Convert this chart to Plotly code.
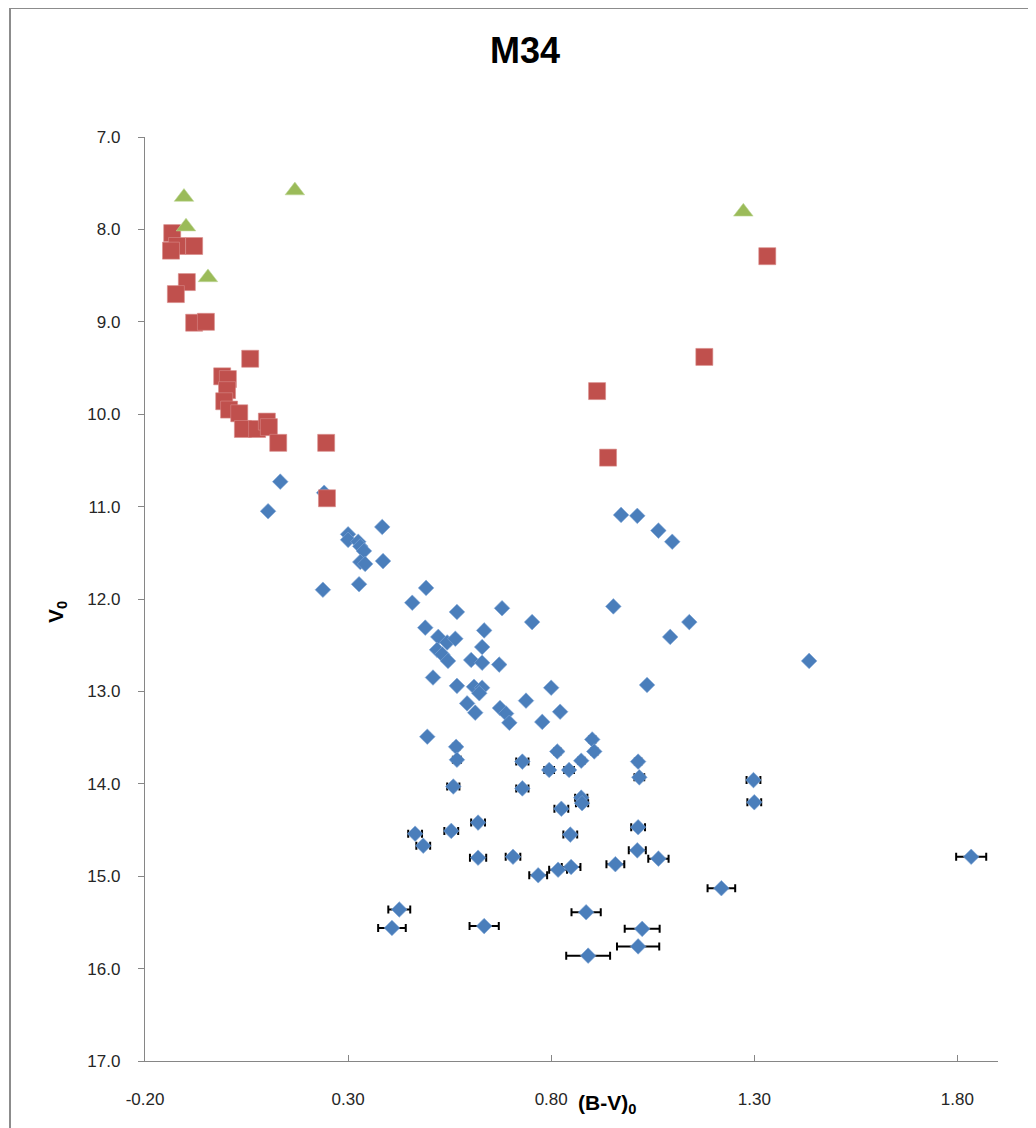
import plotly.graph_objects as go

# ---- data ----
blue_x = [0.133, 0.103, 0.241, 0.238, 0.384, 0.300, 0.300, 0.325, 0.330, 0.339,
          0.330, 0.342, 0.386, 0.327, 0.492, 0.458, 0.568, 0.679, 0.753, 0.490,
          0.522, 0.544, 0.564, 0.519, 0.532, 0.546, 0.635, 0.630, 0.603, 0.630,
          0.672, 0.509, 0.568, 0.610, 0.630, 0.623, 0.593, 0.613, 0.674, 0.689,
          0.697, 0.738, 0.800, 0.822, 0.778, 0.495, 0.566, 0.815, 0.729, 0.568,
          0.901, 0.906, 0.874, 0.795, 0.844, 1.014, 1.017, 0.559, 0.729, 0.874,
          0.876, 0.825, 1.014, 1.012, 1.064, 0.958, 0.847, 0.620, 0.465, 0.485,
          0.554, 0.620, 0.706, 0.768, 0.817, 0.849, 0.426, 0.408, 0.635, 0.886,
          1.024, 1.014, 0.891, 0.972, 1.012, 1.064, 1.098, 0.953, 1.140, 1.093,
          1.036, 1.435, 1.298, 1.300, 1.834, 1.219]
blue_y = [10.73, 11.05, 10.85, 11.90, 11.22, 11.30, 11.36, 11.38, 11.43, 11.48,
          11.60, 11.62, 11.59, 11.84, 11.88, 12.04, 12.14, 12.10, 12.25, 12.31,
          12.41, 12.47, 12.43, 12.55, 12.60, 12.67, 12.34, 12.52, 12.66, 12.69,
          12.71, 12.85, 12.94, 12.95, 12.96, 13.02, 13.13, 13.23, 13.18, 13.24,
          13.34, 13.10, 12.96, 13.22, 13.33, 13.49, 13.60, 13.65, 13.76, 13.74,
          13.52, 13.65, 13.75, 13.85, 13.85, 13.76, 13.93, 14.03, 14.05, 14.15,
          14.21, 14.27, 14.47, 14.72, 14.81, 14.87, 14.55, 14.42, 14.54, 14.67,
          14.51, 14.80, 14.79, 14.99, 14.93, 14.90, 15.36, 15.56, 15.54, 15.39,
          15.57, 15.76, 15.86, 11.09, 11.10, 11.26, 11.38, 12.08, 12.25, 12.41,
          12.93, 12.67, 13.96, 14.20, 14.79, 15.13]
blue_err = [0.005, 0.005, 0.005, 0.005, 0.005, 0.005, 0.005, 0.005, 0.005, 0.005,
            0.005, 0.005, 0.005, 0.005, 0.005, 0.005, 0.005, 0.005, 0.005, 0.005,
            0.005, 0.005, 0.005, 0.005, 0.005, 0.005, 0.005, 0.005, 0.005, 0.005,
            0.005, 0.005, 0.005, 0.005, 0.005, 0.005, 0.005, 0.005, 0.005, 0.005,
            0.005, 0.005, 0.005, 0.005, 0.005, 0.006, 0.008, 0.008, 0.015, 0.010,
            0.008, 0.008, 0.008, 0.012, 0.012, 0.008, 0.012, 0.015, 0.015, 0.015,
            0.015, 0.017, 0.017, 0.021, 0.025, 0.022, 0.017, 0.017, 0.017, 0.017,
            0.017, 0.020, 0.018, 0.022, 0.022, 0.023, 0.027, 0.034, 0.036, 0.036,
            0.043, 0.052, 0.054, 0.005, 0.005, 0.005, 0.005, 0.005, 0.005, 0.005,
            0.005, 0.005, 0.017, 0.017, 0.037, 0.034]

red_x = [-0.133, -0.121, -0.136, -0.079, -0.097, -0.124, -0.079, -0.050, 0.059, -0.010,
         0.004, 0.002, -0.005, 0.007, 0.032, 0.041, 0.076, 0.100, 0.105, 0.128,
         0.246, 0.248, 0.913, 0.940, 1.177, 1.332]
red_y = [8.04, 8.18, 8.23, 8.18, 8.57, 8.70, 9.01, 9.00, 9.40, 9.59,
         9.62, 9.74, 9.86, 9.95, 9.99, 10.16, 10.16, 10.08, 10.14, 10.31,
         10.31, 10.91, 9.75, 10.47, 9.38, 8.29]

green_x = [-0.104, -0.099, -0.045, 0.169, 1.273]
green_y = [7.65, 7.97, 8.52, 7.58, 7.81]

x_tickvals = [-0.2, 0.3, 0.8, 1.3, 1.8]
x_ticktext = ["-0.20", "0.30", "0.80", "1.30", "1.80"]
y_tickvals = [7, 8, 9, 10, 11, 12, 13, 14, 15, 16, 17]
y_ticktext = ["7.0", "8.0", "9.0", "10.0", "11.0", "12.0", "13.0", "14.0", "15.0", "16.0", "17.0"]

FONT = "Liberation Sans Narrow, Liberation Sans, Arial, sans-serif"

# page body has an 8px default margin, so the figure is sized to fit after it
W, H = 1028, 1120

fig = go.Figure()
fig.add_trace(go.Scatter(
    x=blue_x, y=blue_y, mode="markers",
    marker=dict(symbol="diamond", size=12, color="#4A7EBB",
                line=dict(width=0.6, color="#7FA6D6")),
    error_x=dict(type="data", array=blue_err, visible=True,
                 color="black", thickness=2, width=4),
    showlegend=False))
fig.add_trace(go.Scatter(
    x=red_x, y=red_y, mode="markers",
    marker=dict(symbol="square", size=17, color="#C0504D",
                line=dict(width=0.6, color="#D98B89")),
    showlegend=False))
fig.add_trace(go.Scatter(
    x=green_x, y=green_y, mode="markers",
    marker=dict(symbol="triangle-up", size=17, color="#9BBB59",
                line=dict(width=0.6, color="#C0D89A")),
    showlegend=False))

axis_color = "#868686"
fig.update_xaxes(range=[-0.2, 1.9], tickvals=x_tickvals, ticktext=x_ticktext,
                 showline=True, linecolor=axis_color, linewidth=1.3,
                 ticks="inside", ticklen=6, tickcolor=axis_color, tickwidth=1,
                 showgrid=False, zeroline=False, ticklabelstandoff=22,
                 tickfont=dict(family=FONT, size=17, color="#262626"))
fig.update_yaxes(range=[17, 7], tickvals=y_tickvals, ticktext=y_ticktext,
                 showline=True, linecolor=axis_color, linewidth=1.3,
                 ticks="outside", ticklen=6, tickcolor=axis_color, tickwidth=1,
                 showgrid=False, zeroline=False, ticklabelstandoff=14,
                 tickfont=dict(family=FONT, size=17, color="#262626"))

fig.update_layout(
    width=W, height=H,
    margin=dict(l=137, r=38, t=129, b=67),
    paper_bgcolor="white", plot_bgcolor="white",
    title=dict(text="<b>M34</b>", x=(525 - 8) / W, xref="container", xanchor="center",
               y=1 - (50 - 8) / H, yref="container", yanchor="middle",
               font=dict(family=FONT, size=36, color="black")),
    annotations=[
        dict(text="<b>(B-V)<sub>0</sub></b>", xref="paper", yref="paper",
             x=(607 - 145) / 853, y=(1061 - 1104) / 924, showarrow=False,
             xanchor="center", yanchor="middle",
             font=dict(family=FONT, size=21, color="black")),
        dict(text="<b>V<sub>0</sub></b>", xref="paper", yref="paper",
             x=(57 - 145) / 853, y=(1061 - 612) / 924, showarrow=False,
             textangle=-90, xanchor="center", yanchor="middle",
             font=dict(family=FONT, size=21, color="black")),
    ],
    shapes=[dict(type="rect", xref="paper", yref="paper",
                 x0=(2 - 137) / 853, x1=(1045 - 145) / 853,
                 y0=(1061 - 1140) / 924, y1=(1061 - 8) / 924,
                 line=dict(color="#8C8C8C", width=2), layer="below")],
)

fig.write_html("out.html")
